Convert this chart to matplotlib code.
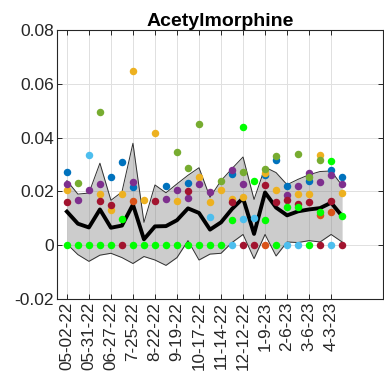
import numpy as np
import matplotlib.pyplot as plt

nan = np.nan

# sampling dates (every other sample is labelled)
tick_labels = ["05-02-22", "05-31-22", "06-27-22", "7-25-22", "8-22-22", "9-19-22",
               "10-17-22", "11-14-22", "12-12-22", "1-9-23", "2-6-23", "3-6-23", "4-3-23"]
n_samples = 26

# concentrations per site (NaN = not visible / missing)
site1 = [0.0273, nan, nan, nan, 0.0252, 0.0311, 0.0216, nan, nan, 0.0221, nan, 0.0230, nan,
         nan, nan, 0.0266, nan, nan, 0.0262, 0.0318, 0.0221, nan, 0.0238, nan, 0.0280, 0.0252]
site2 = [nan, nan, nan, nan, nan, nan, 0.0166, nan, nan, nan, nan, nan, nan,
         nan, nan, nan, nan, nan, 0.0, nan, nan, nan, nan, 0.0114, 0.0124, nan]
site3 = [0.0207, nan, nan, 0.0190, 0.0130, 0.0190, 0.0646, 0.0167, 0.0417, nan, 0.0166, nan, 0.0252,
         0.0160, 0.0205, 0.0172, 0.0180, nan, 0.0268, 0.0207, nan, 0.0190, 0.0189, 0.0336, nan, 0.0193]
site4 = [0.0229, 0.0167, 0.0204, 0.0226, nan, nan, 0.0234, nan, nan, 0.0170, 0.0206, 0.0177, 0.0227,
         0.0197, nan, 0.0281, 0.0229, nan, nan, nan, 0.0188, 0.0219, 0.0268, 0.0234, 0.0260, 0.0228]
site5 = [nan, 0.0232, nan, 0.0494, nan, nan, nan, nan, nan, nan, 0.0346, 0.0287, 0.0449,
         nan, 0.0238, nan, 0.0274, nan, 0.0283, 0.0333, nan, 0.0338, 0.0254, 0.0316, nan, nan]
site6 = [nan, nan, 0.0336, nan, nan, nan, nan, nan, nan, nan, nan, nan, nan,
         0.0105, nan, 0.0, 0.0099, 0.0100, nan, nan, 0.0, 0.0, nan, nan, 0.0, nan]
site7 = [0.0160, nan, nan, 0.0164, 0.0151, 0.0, nan, nan, 0.0165, nan, nan, 0.0201, nan,
         nan, nan, 0.0161, 0.0, 0.0, 0.0223, 0.0161, 0.0167, 0.0155, 0.0159, 0.0, 0.0166, 0.0]
site8 = [0, 0, 0, 0, 0, 0.0098, 0, 0, 0, 0, 0, 0, 0,
         0, 0, 0.0093, 0.0441, 0.0240, 0.0095, 0, 0.0141, 0.0142, 0, 0.0123, 0.0312, 0.0107]

# mean and spread band as shown
mean_vals = [0.0125, 0.0080, 0.0066, 0.0133, 0.0065, 0.0073, 0.0151, 0.0022, 0.0070, 0.0071, 0.0093,
             0.0137, 0.0120, 0.0058, 0.0085, 0.0135, 0.0175, 0.0042, 0.0196, 0.0140, 0.0111,
             0.0126, 0.0133, 0.0138, 0.0158, 0.0108]
band_hi = [0.0240, 0.0190, 0.0194, 0.0305, 0.0167, 0.0198, 0.0379, 0.0085, 0.0224, 0.0195, 0.0228,
           0.0260, 0.0288, 0.0178, 0.0240, 0.0285, 0.0328, 0.0170, 0.0290, 0.0270, 0.0225,
           0.0245, 0.0262, 0.0274, 0.0276, 0.0222]
band_lo = [0.0005, -0.0035, -0.0060, -0.0037, -0.0030, -0.0046, -0.0068, -0.0042, -0.0055, -0.0075,
           -0.0046, 0.0017, -0.0055, -0.0033, -0.0030, 0.0010, 0.0040, -0.0050, 0.0040, -0.0040,
           0.0012, 0.0010, 0.0017, 0.0012, 0.0040, 0.0012]

sites = [site1, site2, site3, site4, site5, site6, site7, site8]
colors = ["#0072BD", "#D95319", "#EDB120", "#7E2F8E", "#77AC30", "#4DBEEE", "#A2142F", "#00FF00"]

plt.rcParams['font.family'] = ['Liberation Sans', 'DejaVu Sans']

x = np.arange(n_samples)

fig = plt.figure(figsize=(3.84, 3.90), dpi=100)
ax = fig.add_axes([0.1484, 0.2333, 0.8486, 0.6897])

ax.fill_between(x, band_lo, band_hi, color=(0.5, 0.5, 0.5), alpha=0.4, lw=0, zorder=2)
ax.plot(x, band_hi, color="#303030", lw=0.7, zorder=3)
ax.plot(x, band_lo, color="#303030", lw=0.7, zorder=3)
ax.plot(x, mean_vals, color="black", lw=2.8, zorder=4)

for vals, c in zip(sites, colors):
    ax.plot(x, vals, 'o', color=c, ms=5.4, mec='none', zorder=5)

ax.set_xlim(-0.9, 28.7)
ax.set_ylim(-0.02, 0.08)
ax.set_xticks(x[::2])
ax.set_xticklabels(tick_labels, rotation=90, fontsize=12.3)
ax.set_yticks([-0.02, 0, 0.02, 0.04, 0.06, 0.08])
ax.set_yticklabels(["-0.02", "0", "0.02", "0.04", "0.06", "0.08"], fontsize=12.5)

ax.grid(True, color="#e0e0e0", lw=0.7, zorder=0)
ax.set_axisbelow(True)
ax.tick_params(direction='in', length=3.5, width=0.7, top=True, right=True,
               colors="#262626", pad=2)
for sp in ax.spines.values():
    sp.set_color("#262626")
    sp.set_linewidth(0.8)

ax.set_title("Acetylmorphine", fontsize=14, fontweight='bold', pad=3)

fig.savefig("out.png", dpi=100)
